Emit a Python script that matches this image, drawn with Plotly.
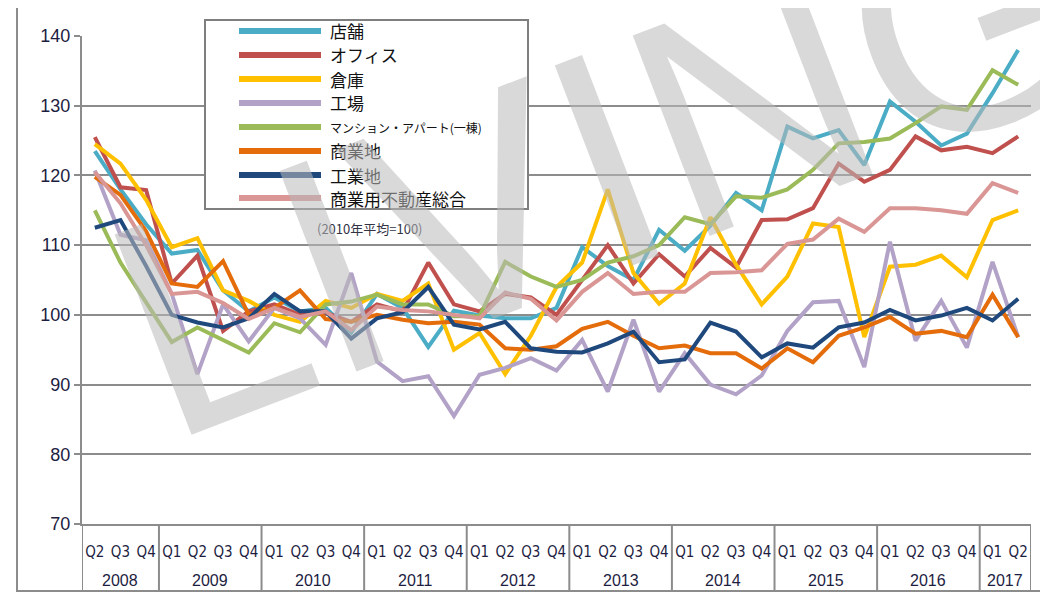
import plotly.graph_objects as go

quarters = ["Q2", "Q3", "Q4"] + ["Q1", "Q2", "Q3", "Q4"] * 8 + ["Q1", "Q2"]
years = ["2008"] * 3 + [str(y) for y in range(2009, 2017) for _ in range(4)] + ["2017"] * 2

names = ["店舗", "オフィス", "倉庫", "工場", "マンション・アパート(一棟)", "商業地", "工業地", "商業用不動産総合"]
colors = ["#4BACC6", "#C0504D", "#FFC000", "#B3A2C7", "#9BBB59", "#E46C0A", "#1F497D", "#D99694"]

shop = [123.5, 118, 113, 108.8, 109.3, 103.5, 100.5, 102.5, 100.5, 101, 97.5, 103, 101, 95.4, 100.6, 99.9,
        99.5, 99.5, 101, 109.7, 107, 105, 112.2, 109.2, 112.8, 117.5, 115, 127, 125.3, 126.5, 121.5, 130.6,
        127.7, 124.3, 126, 131.8, 138]
office = [125.5, 118.3, 117.9, 104.5, 108.5, 97.7, 100.5, 101.5, 100, 100.3, 99, 101.5, 100.5, 107.5, 101.5,
          100.5, 103, 102.5, 100, 105, 110, 104.5, 108.7, 105.5, 109.6, 106.8, 113.6, 113.7, 115.3, 121.7,
          119.1, 120.8, 125.6, 123.6, 124.1, 123.2, 125.6]
warehouse = [124.5, 121.7, 116.5, 109.7, 111, 103.5, 102, 100, 99, 102, 101, 103, 102, 104.5, 95, 97.4, 91.5,
             97, 104, 107.5, 118, 106, 101.6, 104.5, 114, 107.2, 101.5, 105.5, 113.1, 112.6, 96.8, 106.9,
             107.2, 108.5, 105.4, 113.6, 115]
factory = [120.7, 111.5, 110.7, 103, 91.5, 101.5, 96.2, 101, 99.5, 95.7, 106, 93.3, 90.5, 91.2, 85.5, 91.4,
           92.4, 93.8, 92, 96.4, 89, 99.3, 89, 94.5, 90, 88.6, 91.3, 97.7, 101.8, 102, 92.5, 110.5, 96.3, 102,
           95.3, 107.6, 96.8]
apartment = [115, 107.5, 101.8, 96.1, 98.2, 96.4, 94.6, 98.8, 97.5, 101.5, 101.9, 102.9, 101.5, 101.5, 99.8,
             99.8, 107.6, 105.5, 104, 105, 107.5, 108.4, 110, 114, 113, 117, 116.8, 118, 120.8, 124.6, 124.8,
             125.3, 127.5, 129.9, 129.4, 135.1, 133]
commercial_land = [119.8, 117.2, 112, 104.5, 104, 107.7, 100, 101, 103.5, 99.4, 99, 100, 99.3, 98.8, 99, 98.6,
                   95.2, 95, 95.5, 98, 99, 97, 95.2, 95.6, 94.5, 94.5, 92.3, 95.2, 93.2, 97, 98.2, 99.7, 97.3,
                   97.7, 96.8, 102.9, 96.8]
industrial_land = [112.5, 113.6, 107, 100, 98.9, 98.2, 99.5, 103, 100.5, 100.5, 96.6, 99.5, 100.4, 104, 98.6,
                   97.9, 99, 95.2, 94.7, 94.6, 95.9, 97.6, 93.2, 93.6, 98.9, 97.6, 93.9, 95.9, 95.3, 98.2, 98.9,
                   100.7, 99.2, 99.9, 101, 99.2, 102.3]
total = [120.5, 116, 110, 103, 103.3, 101.7, 99.4, 101, 99.7, 100.5, 97.8, 101.2, 100.7, 100.5, 100, 99.5,
         103.2, 102.3, 99.2, 103.3, 106, 103, 103.3, 103.3, 106, 106.1, 106.4, 110.2, 110.8, 113.8, 111.9,
         115.3, 115.3, 115, 114.5, 118.9, 117.5]

series = [shop, office, warehouse, factory, apartment, commercial_land, industrial_land, total]
note = "(2010年平均=100)"
watermark = "LIVING"
y_ticks = [70, 80, 90, 100, 110, 120, 130, 140]

# page geometry: the page body has an 8px margin, so figure coords = page coords - 8
OFF = 8
W, H = 1040, 585
L, T = 82 - OFF, 36 - OFF
R = W - (1031 - OFF)
B = H - (524 - OFF)
PW, PH = W - L - R, H - T - B


def px(x):
    return (x - OFF - L) / PW


def py(y):
    return (H - B - (y - OFF)) / PH


xs = list(range(len(quarters)))
fig = go.Figure()
for name, col, vals in zip(names, colors, series):
    fig.add_trace(go.Scatter(x=xs, y=vals, mode="lines", name=name,
                             line=dict(color=col, width=4), showlegend=False))

text_col = "#1d1d3f"
tick_font = dict(family="Liberation Sans Narrow, DejaVu Sans Condensed, sans-serif", size=15, color=text_col)

fig.update_layout(
    width=W, height=H, margin=dict(l=L, r=R, t=T, b=B),
    paper_bgcolor="white", plot_bgcolor="white",
    xaxis=dict(range=[-0.5, len(xs) - 0.5], tickmode="array", tickvals=xs, ticktext=quarters,
               showgrid=False, zeroline=False, showline=True, linecolor="#8c8c8c", linewidth=2,
               ticks="", tickfont=tick_font, ticklabelstandoff=13, fixedrange=True),
    yaxis=dict(range=[70, 140], tickmode="array", tickvals=y_ticks, showgrid=True, gridcolor="#8c8c8c",
               gridwidth=2, zeroline=False, showline=True, linecolor="#8c8c8c", linewidth=2,
               ticks="outside", ticklen=6, tickcolor="#8c8c8c", tickwidth=2,
               tickfont=dict(family="Liberation Sans, Arial, sans-serif", size=18, color=text_col)),
)

shapes = []
annotations = []
# outer frame
shapes.append(dict(type="rect", xref="paper", yref="paper", x0=px(17), x1=px(1070), y0=py(5), y1=py(591),
                   line=dict(color="#8c8c8c", width=2), fillcolor="rgba(0,0,0,0)", layer="below"))
# year dividers and year labels
bounds = [i for i in range(1, len(years)) if years[i] != years[i - 1]]
edges = [-0.5] + [b - 0.5 for b in bounds] + [len(years) - 0.5]
for e in edges:
    shapes.append(dict(type="line", xref="x", yref="paper", x0=e, x1=e, y0=0, y1=py(591),
                       line=dict(color="#8c8c8c", width=2)))
starts = [0] + bounds
ends = bounds + [len(years)]
for s, e in zip(starts, ends):
    annotations.append(dict(x=(s + e - 1) / 2, y=py(580), xref="x", yref="paper", text=years[s],
                            showarrow=False, xanchor="center", yanchor="middle",
                            font=dict(family="Liberation Sans, Arial, sans-serif", size=16, color=text_col)))

# custom legend box
shapes.append(dict(type="rect", xref="paper", yref="paper", x0=px(205), x1=px(528), y0=py(20), y1=py(209),
                   line=dict(color="#7f7f7f", width=2), fillcolor="white", layer="above"))
leg_y = [31, 55, 79, 103, 127, 151, 175, 198]
for name, col, ly in zip(names, colors, leg_y):
    shapes.append(dict(type="line", xref="paper", yref="paper", x0=px(239), x1=px(321), y0=py(ly), y1=py(ly),
                       line=dict(color=col, width=6), layer="above"))
    small = len(name) > 8
    annotations.append(dict(x=px(328), y=py(ly), xref="paper", yref="paper", text=name, showarrow=False,
                            xanchor="left", yanchor="middle",
                            font=dict(family="Noto Sans CJK JP", size=12 if small else 17, color="#111111")))
annotations.append(dict(x=px(370), y=py(228), xref="paper", yref="paper", text=note, showarrow=False,
                        xanchor="center", yanchor="middle",
                        font=dict(family="Noto Sans CJK JP", size=13, color="#333344")))

# translucent watermark over the chart
annotations.append(dict(x=px(606), y=py(160), xref="paper", yref="paper", text=watermark, showarrow=False,
                        xanchor="center", yanchor="middle", textangle=-21,
                        font=dict(family="Liberation Sans, Arial, sans-serif", size=312,
                                  color="rgba(185,185,185,0.55)")))

fig.update_layout(shapes=shapes, annotations=annotations)
fig.write_html("out.html")
